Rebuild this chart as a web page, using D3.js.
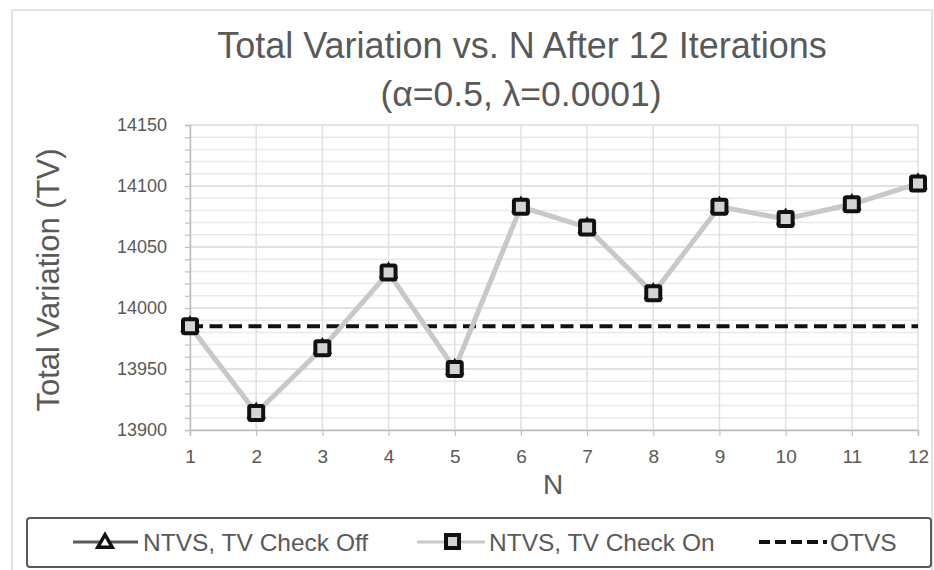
<!DOCTYPE html>
<html>
<head>
<meta charset="utf-8">
<script src="https://cdn.jsdelivr.net/npm/d3@7"></script>
<style>
  body { margin: 0; background: #fff; overflow: hidden; }
  text { font-family: "Liberation Sans", Arial, sans-serif; fill: #595959; }
</style>
</head>
<body>
<div id="chart"></div>
<script>
// Data
var nValues = [1, 2, 3, 4, 5, 6, 7, 8, 9, 10, 11, 12];
var tvCheckOff = [13985, 13914, 13967, 14029, 13950, 14083, 14066, 14012, 14083, 14073, 14085, 14102];
var tvCheckOn = [13985, 13914, 13967, 14029, 13950, 14083, 14066, 14012, 14083, 14073, 14085, 14102];
var otvs = 13985;
var yTicks = [13900, 13950, 14000, 14050, 14100, 14150];
var seriesNames = ["NTVS, TV Check Off", "NTVS, TV Check On", "OTVS"];

var W = 934, H = 570;

var svg = d3.select("#chart")
	.append("svg")
	.attr("width", W)
	.attr("height", H);

// outer chart frame
svg.append("rect")
	.attr("x", 12).attr("y", 10)
	.attr("width", 920).attr("height", 575)
	.attr("fill", "none")
	.attr("stroke", "#e3e3e3")
	.attr("stroke-width", 2);

// Scales
var x = d3.scaleLinear().domain([1, 12]).range([190, 918]);
var y = d3.scaleLinear().domain([13900, 14150]).range([430, 125]);

// minor gridlines every 10
var minor = d3.range(13900, 14151, 10);
svg.append("g").selectAll("line")
	.data(minor)
	.enter().append("line")
	.attr("x1", x(1)).attr("x2", x(12))
	.attr("y1", function (d) { return y(d); })
	.attr("y2", function (d) { return y(d); })
	.attr("stroke", function (d) { return d % 50 === 0 ? "#d9d9d9" : "#e9e9e9"; })
	.attr("stroke-width", 1.5);

// vertical gridlines
svg.append("g").selectAll("line")
	.data(nValues)
	.enter().append("line")
	.attr("x1", function (d) { return x(d); })
	.attr("x2", function (d) { return x(d); })
	.attr("y1", y(14150)).attr("y2", y(13900))
	.attr("stroke", "#e0e0e0")
	.attr("stroke-width", 1.5);

// y axis with minor ticks
var yAxis = svg.append("g")
	.attr("transform", "translate(" + x(1) + ",0)")
	.call(d3.axisLeft(y).tickValues(minor).tickSize(5).tickFormat(""));
yAxis.select(".domain").attr("stroke", "#bfbfbf").attr("stroke-width", 1.5);
yAxis.selectAll(".tick line").attr("stroke", "#bfbfbf").attr("stroke-width", 1.2);

svg.append("g").selectAll("text")
	.data(yTicks)
	.enter().append("text")
	.attr("x", 167)
	.attr("y", function (d) { return y(d); })
	.attr("dy", "0.35em")
	.attr("text-anchor", "end")
	.style("font-size", "18px")
	.text(function (d) { return d; });

// x axis
var xAxis = svg.append("g")
	.attr("transform", "translate(0," + y(13900) + ")")
	.call(d3.axisBottom(x).tickValues(nValues).tickSize(6).tickPadding(14).tickFormat(d3.format("d")));
xAxis.select(".domain").attr("stroke", "#bfbfbf").attr("stroke-width", 1.5);
xAxis.selectAll(".tick line").attr("stroke", "#bfbfbf").attr("stroke-width", 1.2);
xAxis.selectAll(".tick text")
	.style("font-size", "19px")
	.style("font-family", "'Liberation Sans', Arial, sans-serif")
	.attr("fill", "#595959");

// titles
svg.append("text")
	.attr("x", 522).attr("y", 58)
	.attr("text-anchor", "middle")
	.style("font-size", "36px")
	.text("Total Variation vs. N After 12 Iterations");
svg.append("text")
	.attr("x", 521).attr("y", 106)
	.attr("text-anchor", "middle")
	.style("font-size", "35.5px")
	.text("(\u03b1=0.5, \u03bb=0.0001)");

svg.append("text")
	.attr("transform", "translate(59,280) rotate(-90)")
	.attr("text-anchor", "middle")
	.style("font-size", "31px")
	.text("Total Variation (TV)");

svg.append("text")
	.attr("x", 553).attr("y", 494)
	.attr("text-anchor", "middle")
	.style("font-size", "28px")
	.text("N");

// OTVS dashed line
svg.append("line")
	.attr("x1", x(1)).attr("x2", x(12))
	.attr("y1", y(otvs)).attr("y2", y(otvs))
	.attr("stroke", "#111")
	.attr("stroke-width", 4)
	.attr("stroke-dasharray", "13,6.5");

var line = d3.line()
	.x(function (d, i) { return x(nValues[i]); })
	.y(function (d) { return y(d); });

// Check Off series (sits beneath Check On)
svg.append("path")
	.datum(tvCheckOff)
	.attr("d", line)
	.attr("fill", "none")
	.attr("stroke", "#595959")
	.attr("stroke-width", 3);

var tri = d3.symbol().type(d3.symbolTriangle).size(90);
svg.append("g").selectAll("path")
	.data(tvCheckOff)
	.enter().append("path")
	.attr("d", tri)
	.attr("transform", function (d, i) { return "translate(" + x(nValues[i]) + "," + y(d) + ")"; })
	.attr("fill", "#fff")
	.attr("stroke", "#111")
	.attr("stroke-width", 3);

// Check On series
svg.append("path")
	.datum(tvCheckOn)
	.attr("d", line)
	.attr("fill", "none")
	.attr("stroke", "#c8c8c8")
	.attr("stroke-width", 5);

svg.append("g").selectAll("rect")
	.data(tvCheckOn)
	.enter().append("rect")
	.attr("x", function (d, i) { return x(nValues[i]) - 7; })
	.attr("y", function (d) { return y(d) - 7; })
	.attr("width", 14).attr("height", 14)
	.attr("rx", 1.5)
	.attr("fill", "#d4d4d4")
	.attr("stroke", "#111")
	.attr("stroke-width", 4);

// Legend
var legend = svg.append("g");
legend.append("rect")
	.attr("x", 27).attr("y", 518)
	.attr("width", 904).attr("height", 49)
	.attr("rx", 3)
	.attr("fill", "#fff")
	.attr("stroke", "#595959")
	.attr("stroke-width", 2);

var ly = 542;
var legendX = [73, 417, 759];

// entry 1
legend.append("line")
	.attr("x1", legendX[0]).attr("x2", legendX[0] + 65)
	.attr("y1", ly).attr("y2", ly)
	.attr("stroke", "#595959").attr("stroke-width", 3);
legend.append("path")
	.attr("d", tri)
	.attr("transform", "translate(" + (legendX[0] + 32) + "," + (ly + 1) + ")")
	.attr("fill", "#fff").attr("stroke", "#111").attr("stroke-width", 3.5);

// entry 2
legend.append("line")
	.attr("x1", legendX[1]).attr("x2", legendX[1] + 68)
	.attr("y1", ly).attr("y2", ly)
	.attr("stroke", "#c8c8c8").attr("stroke-width", 3);
legend.append("rect")
	.attr("x", legendX[1] + 29).attr("y", ly - 7)
	.attr("width", 13).attr("height", 13)
	.attr("fill", "#d4d4d4").attr("stroke", "#111").attr("stroke-width", 4);

// entry 3
legend.append("line")
	.attr("x1", legendX[2]).attr("x2", legendX[2] + 68)
	.attr("y1", ly).attr("y2", ly)
	.attr("stroke", "#111").attr("stroke-width", 4)
	.attr("stroke-dasharray", "11,5");

legend.selectAll("text.lab")
	.data(seriesNames)
	.enter().append("text")
	.attr("class", "lab")
	.attr("x", function (d, i) { return legendX[i] + [70, 72, 71][i]; })
	.attr("y", ly)
	.attr("dy", "0.35em")
	.style("font-size", "24.5px")
	.text(function (d) { return d; });
</script>
</body>
</html>
